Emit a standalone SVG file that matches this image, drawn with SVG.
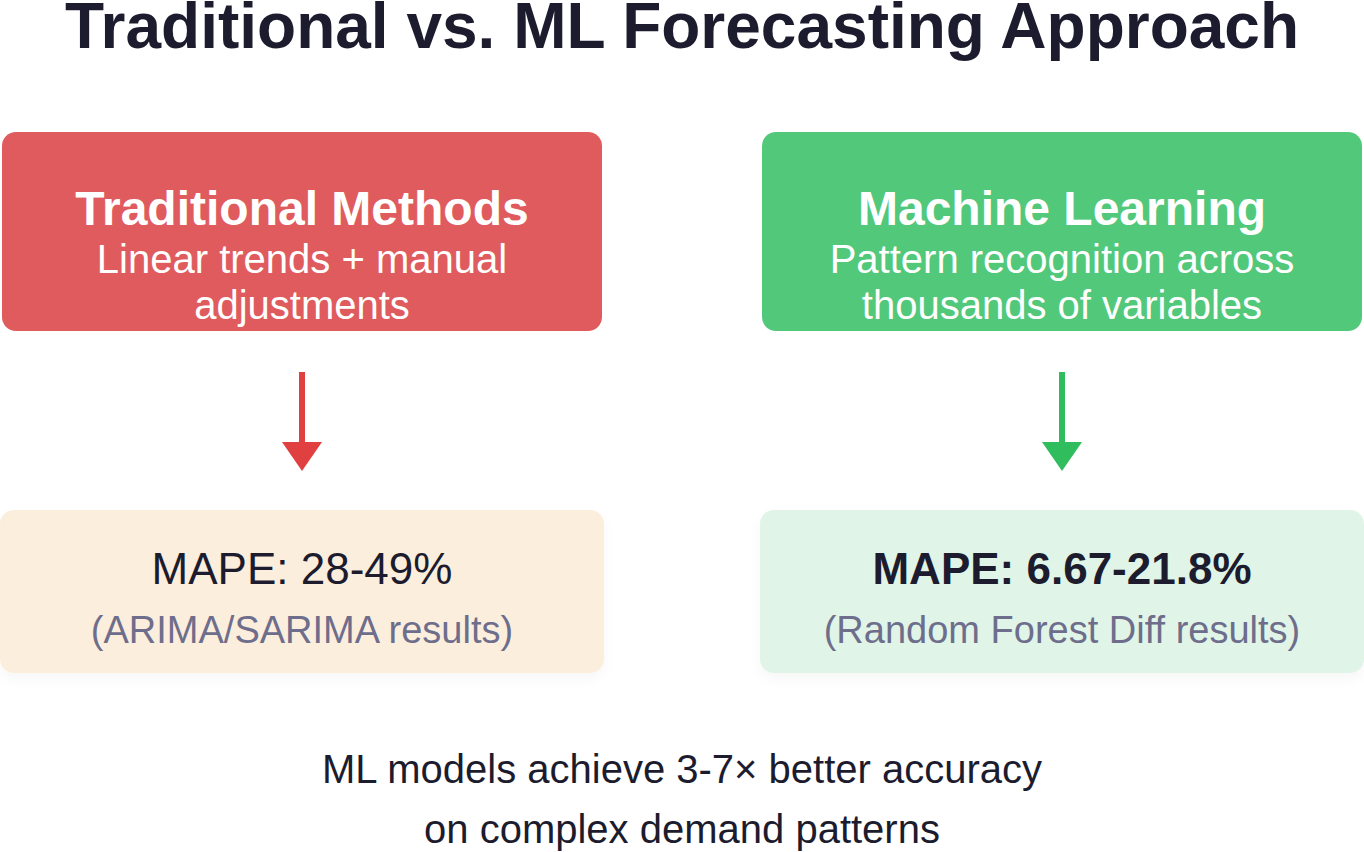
<svg xmlns="http://www.w3.org/2000/svg" width="1364" height="852" viewBox="0 0 1364 852">
<defs>
<style>
text{font-family:"Liberation Sans",Arial,sans-serif;text-anchor:middle}
.title{font-size:64px;font-weight:bold;fill:#1c1c2e}
.hd{font-size:48px;font-weight:bold;fill:#ffffff}
.sub{font-size:40px;fill:#ffffff}
.mape{font-size:44px;fill:#1c1c2e}
.src{font-size:38px;fill:#6e6e8c}
.foot{font-size:40px;fill:#1c1c2e}
</style>
<filter id="sh" x="-5%" y="-10%" width="110%" height="130%">
<feDropShadow dx="0" dy="6" stdDeviation="6" flood-color="#000" flood-opacity="0.03"/>
</filter>
</defs>
<rect width="1364" height="852" fill="#ffffff"/>
<text class="title" x="682" y="48">Traditional vs. ML Forecasting Approach</text>
<g id="traditional">
<rect x="2" y="132" width="600" height="199" rx="14" fill="#e05b5e"/>
<text class="hd" x="302" y="225">Traditional Methods</text>
<text class="sub" x="302" y="273">Linear trends + manual</text>
<text class="sub" x="302" y="319">adjustments</text>
</g>
<g id="ml">
<rect x="762" y="132" width="600" height="199" rx="14" fill="#52c87b"/>
<text class="hd" x="1062" y="225">Machine Learning</text>
<text class="sub" x="1062" y="273">Pattern recognition across</text>
<text class="sub" x="1062" y="319">thousands of variables</text>
</g>
<g id="connectors">
<line x1="302" y1="372" x2="302" y2="446" stroke="#e0403f" stroke-width="6"/>
<polygon points="282,442 322,442 302,471" fill="#e0403f"/>
<line x1="1062" y1="372" x2="1062" y2="446" stroke="#2fbd5d" stroke-width="6"/>
<polygon points="1042,442 1082,442 1062,471" fill="#2fbd5d"/>
</g>
<g id="trad-result">
<rect x="0" y="510" width="604" height="163" rx="14" fill="#fceedc" filter="url(#sh)"/>
<text class="mape" x="302" y="584">MAPE: 28-49%</text>
<text class="src" x="302" y="643">(ARIMA/SARIMA results)</text>
</g>
<g id="ml-result">
<rect x="760" y="510" width="604" height="163" rx="14" fill="#e0f5e7" filter="url(#sh)"/>
<text class="mape" x="1062" y="584" font-weight="bold">MAPE: 6.67-21.8%</text>
<text class="src" x="1062" y="643">(Random Forest Diff results)</text>
</g>
<text class="foot" x="682" y="783">ML models achieve 3-7× better accuracy</text>
<text class="foot" x="682" y="843">on complex demand patterns</text>
</svg>
